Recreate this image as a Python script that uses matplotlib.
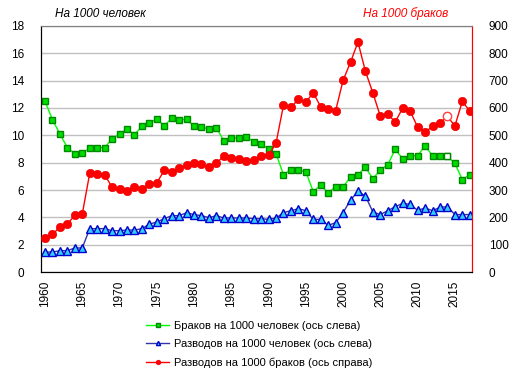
import matplotlib
matplotlib.use('Agg')
import matplotlib.pyplot as plt

plt.rcParams['font.family'] = ['Liberation Sans', 'DejaVu Sans']

years = list(range(1960, 2018))

# браков на 1000 человек (левая ось)
marriages = [12.5, 11.15, 10.1, 9.1, 8.66, 8.7, 9.05, 9.1, 9.1, 9.75,
             10.1, 10.45, 10.05, 10.65, 10.93, 11.17, 10.7, 11.24, 11.15, 11.17,
             10.66, 10.63, 10.44, 10.56, 9.6, 9.78, 9.83, 9.9, 9.54, 9.39,
             8.98, 8.66, 7.12, 7.49, 7.44, 7.34, 5.88, 6.34, 5.8, 6.24,
             6.24, 6.93, 7.12, 7.66, 6.83, 7.46, 7.85, 8.98, 8.29, 8.51,
             8.51, 9.24, 8.51, 8.51, 8.46, 7.95, 6.76, 7.12]

# разводов на 1000 человек (левая ось)
divorces = [1.46, 1.46, 1.56, 1.56, 1.76, 1.76, 3.17, 3.17, 3.17, 3.02,
            3.02, 3.07, 3.07, 3.17, 3.5, 3.66, 3.9, 4.12, 4.12, 4.34,
            4.2, 4.12, 3.98, 4.12, 3.95, 3.95, 3.95, 3.95, 3.9, 3.9,
            3.85, 3.95, 4.34, 4.49, 4.63, 4.49, 3.85, 3.85, 3.41, 3.61,
            4.34, 5.27, 5.9, 5.56, 4.39, 4.2, 4.49, 4.78, 5.02, 4.95,
            4.51, 4.68, 4.49, 4.73, 4.78, 4.2, 4.2, 4.2]

# разводов на 1000 браков (правая ось)
div_per_marr = [124, 139, 163, 176, 207, 212, 361, 359, 355, 311,
                302, 295, 311, 302, 322, 326, 372, 367, 379, 391,
                398, 394, 384, 398, 424, 417, 412, 405, 411, 424,
                428, 471, 610, 602, 632, 621, 656, 604, 596, 590,
                701, 768, 841, 734, 655, 570, 577, 549, 600, 589,
                530, 511, 533, 545, 570, 534, 624, 589]

fig = plt.figure(figsize=(5.2, 3.74), dpi=100)
ax = fig.add_axes([0.0788, 0.2727, 0.8289, 0.6578])
ax2 = ax.twinx()

ax.plot(years, marriages, color='#00ff00', lw=1, marker='s', ms=5,
        mfc='#00dd00', mec='#008800', mew=1, label='Браков на 1000 человек (ось слева)', zorder=3)
ax.plot(years, divorces, color='#3333aa', lw=1, marker='^', ms=5.5,
        mfc='#33ccff', mec='#0000cc', mew=1, label='Разводов на 1000 человек (ось слева)', zorder=3)
ax2.plot(years, div_per_marr, color='#ff0000', lw=1, marker='o', ms=6,
         mfc='#ff0000', mec='#ee0000', mew=0.5, label='Разводов на 1000 браков (ось справа)', zorder=3)

# 2014 - пустые маркеры
i14 = years.index(2014)
ax.plot(years[i14], marriages[i14], marker='s', ms=5, mfc='white', mec='#008800', mew=1, zorder=4)
ax2.plot(years[i14], div_per_marr[i14], marker='o', ms=6, mfc='white', mec='#ff4444', mew=1, zorder=4)

ax.set_xlim(1959.46, 2017.3)
ax.set_ylim(0, 18)
ax2.set_ylim(0, 900)
ax.set_yticks(range(0, 19, 2))
ax2.set_yticks(range(0, 901, 100))
ax.set_xticks(range(1960, 2016, 5))
ax.tick_params(axis='x', rotation=90, length=0, labelsize=8.5, pad=6)
ax.tick_params(axis='y', length=0, labelsize=8.5, pad=12)
ax2.tick_params(axis='y', length=0, labelsize=8.5, pad=12)
ax.grid(axis='y', color='#c0c0c0', lw=1)
ax.set_axisbelow(True)

for a in (ax, ax2):
    a.spines['top'].set_color('#808080')
    a.spines['left'].set_color('black')
    a.spines['bottom'].set_color('black')
    a.spines['right'].set_color('red')

fig.text(0.106, 0.955, 'На 1000 человек', fontsize=8.5, style='italic', color='black')
fig.text(0.698, 0.955, 'На 1000 браков', fontsize=8.5, style='italic', color='red')

h1, l1 = ax.get_legend_handles_labels()
h2, l2 = ax2.get_legend_handles_labels()
leg = fig.legend(h1[:2] + h2[:1], l1[:2] + l2[:1], loc='upper left',
                 bbox_to_anchor=(0.27, 0.157), frameon=False, fontsize=8,
                 markerscale=0.55, handlelength=2.1, labelspacing=0.75,
                 borderpad=0, handletextpad=0.45)

fig.savefig('out.png', dpi=100)
